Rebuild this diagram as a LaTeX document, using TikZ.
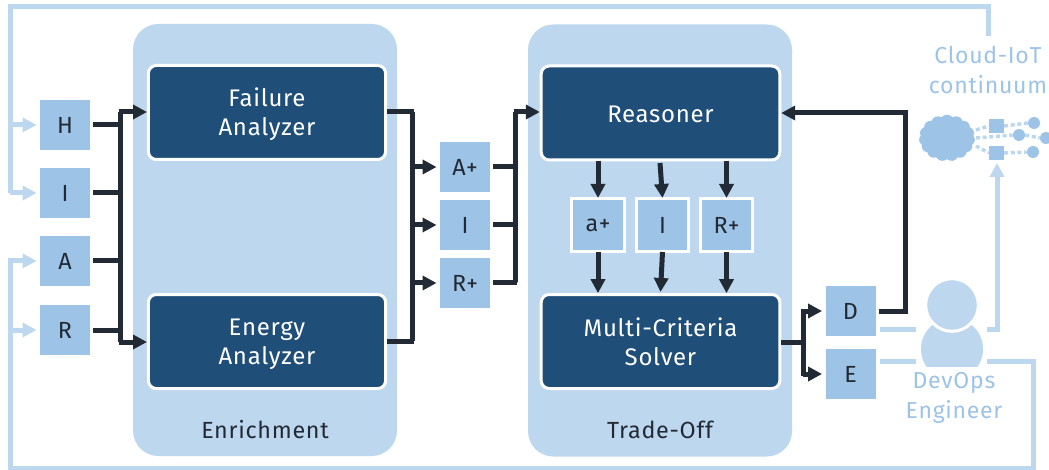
\documentclass[tikz,border=0pt]{standalone}
\usepackage{fontspec}
\setmainfont{Fira Sans}[LetterSpace=3]
\usetikzlibrary{arrows.meta,shapes.symbols}
\definecolor{panel}{HTML}{BDD7EE}
\definecolor{midblue}{HTML}{9DC3E6}
\definecolor{navy}{HTML}{1F4E79}
\definecolor{ink}{HTML}{222A35}
\newcommand\lowered[2]{\raisebox{-#1}[\height][\depth]{#2}}
\tikzset{
  x=.75pt,y=-.75pt,
  panelbox/.style={fill=panel,rounded corners=19pt,minimum width=198pt,minimum height=324pt,inner sep=0pt},
  darkbox/.style={fill=navy,draw=white,line width=2.25pt,rounded corners=6pt,minimum width=178pt,minimum height=70.5pt,
    text=white,align=center,font=\fontsize{18pt}{22pt}\selectfont,outer sep=1pt},
  smallbox/.style={fill=midblue,minimum size=37.5pt,inner sep=0pt,text=ink,font=\fontsize{17.5pt}{20pt}\selectfont,outer sep=2.6pt},
  framedbox/.style={smallbox,draw=white,line width=2.25pt,minimum size=39.5pt,outer sep=.5pt},
  panellabel/.style={text=ink,font=\fontsize{17.5pt}{20pt}\selectfont},
  lightlabel/.style={text=midblue,align=center,font=\fontsize{17.3pt}{23pt}\selectfont},
  darkline/.style={draw=ink,line width=3.75pt},
  darkarrow/.style={darkline,-{Triangle[length=10.5pt,width=10.5pt]}},
  lightline/.style={draw=panel,line width=3.75pt},
  lightarrow/.style={lightline,-{Triangle[length=10.5pt,width=10.5pt]}},
  dotline/.style={draw=panel,line width=2.6pt,dash pattern=on 3pt off 2pt},
  device/.style={fill=midblue,minimum size=11pt,inner sep=0pt},
  thing/.style={fill=midblue,circle,minimum size=9pt,inner sep=0pt},
}
\begin{document}
\begin{tikzpicture}
\useasboundingbox (0,0) rectangle (1049,470);

% panels
\node[panelbox] (enrich) at (265,240) {};
\node[panelbox] (trade) at (660,240.5) {};
\node[panellabel] (enrichlabel) at (265,430) {Enrichment};
\node[panellabel] (tradelabel) at (660,430) {Trade-Off};

% dark boxes
\node[darkbox] (failure) at (267,112.5) {\lowered{1.5pt}{Failure}\\\lowered{1.5pt}{Analyzer}};
\node[darkbox] (energy) at (267,341.5) {\lowered{2.2pt}{Energy}\\\lowered{2.2pt}{Analyzer}};
\node[darkbox,minimum width=179pt] (reasoner) at (660.5,113) {\lowered{.8pt}{Reasoner}};
\node[darkbox,minimum width=179pt] (solver) at (660.5,341.5) {Multi-Criteria\\Solver};

% input boxes
\node[smallbox] (H) at (65,125) {H};
\node[smallbox] (I) at (65,193) {I};
\node[smallbox] (A) at (65,261) {A};
\node[smallbox] (R) at (65,330) {R};

% enriched boxes
\node[smallbox] (Ap) at (465,167) {A+};
\node[smallbox] (Im) at (465,225) {I};
\node[smallbox] (Rp) at (465,283) {R+};

% framed boxes
\node[framedbox] (af) at (598,225) {a+};
\node[framedbox] (if) at (662.5,225) {I};
\node[framedbox] (rf) at (726.5,225) {R+};

% output boxes
\node[smallbox] (D) at (850.5,311) {D};
\node[smallbox] (E) at (850.5,374) {E};

% person
\begin{scope}
  \clip (915,318) rectangle (990,366);
  \fill[panel] (952,349) ellipse [x radius=31,y radius=31];
\end{scope}
\node[circle,fill=panel,draw=white,line width=2.25pt,minimum size=39.5pt,inner sep=0pt] (head) at (952,305) {};
\node[lightlabel] (devops) at (954,398) {DevOps\\Engineer};

% cloud-IoT
\node[lightlabel] (cloudlabel) at (988,70) {Cloud-IoT\\continuum};
\node[cloud,cloud puffs=15,cloud puff arc=100,aspect=1.25,fill=midblue,minimum width=42pt,minimum height=35pt,inner sep=0pt] (cloud) at (947,138) {};
\node[device] (s1) at (996.5,126) {};
\node[device] (s2) at (996.5,153) {};
\node[thing] (c1) at (1034,123) {};
\node[thing] (c2) at (1019,135) {};
\node[thing] (c3) at (1046,138) {};
\node[thing] (c4) at (1033,152) {};
\draw[dotline] (976,130) -- (s1.west);
\draw[dotline] (976,138) -- (c2.west);
\draw[dotline] (976,146) -- (s2.west);
\draw[dotline] (s1.east) -- (c1.west);
\draw[dotline] (s2.east) -- (c4.west);
\draw[dotline] (c2.east) -- (c3.west);

% coordinates of the light loops
\coordinate (loopTL) at (10,7);
\coordinate (loopTR) at (988,7);
\coordinate (cloudin) at (988,36);
\coordinate (loopBL) at (10,468);
\coordinate (loopBR) at (1033,468);
\coordinate (loopER) at (1033,361);
\coordinate (personE) at (987,361);
\coordinate (Eout) at (880,361);
\coordinate (Ein) at (916,361);
\coordinate (Dout) at (880,329);
\coordinate (Din) at (916,329);
\coordinate (personD) at (987,329);
\coordinate (upR) at (997,329);

% light connectors
\draw[lightline] (cloudin) -- (loopTR) -- (loopTL) -- (10,193);
\draw[lightarrow] (10,193) -- (I.west);
\draw[lightarrow] (10,125) -- (H.west);
\draw[lightline] (Eout) -- (Ein);
\draw[lightline] (personE) -- (loopER) -- (loopBR) -- (loopBL) -- (10,261);
\draw[lightarrow] (8.1,261) -- (A.west);
\draw[lightarrow] (10,330) -- (R.west);
\draw[lightline] (Dout) -- (Din);
\draw[lightarrow] (personD) -- (upR) -- (997,163);

% input bus
\coordinate (busA) at (120.5,112);
\coordinate (busB) at (120.5,342);
\draw[darkline] (H.east) -- (H.east -| busA);
\draw[darkline] (I.east) -- (I.east -| busA);
\draw[darkline] (A.east) -- (A.east -| busA);
\draw[darkline] (R.east) -- (R.east -| busA);
\draw[darkline] (busA) -- (busB);
\draw[darkarrow] (118.6,112) -- (failure.west |- busA);
\draw[darkarrow] (118.6,342) -- (energy.west |- busB);

% enrichment outputs
\coordinate (midA) at (412,112);
\coordinate (midB) at (412,341);
\draw[darkline] (failure.east |- midA) -- (413.9,112);
\draw[darkline] (energy.east |- midB) -- (413.9,341);
\draw[darkline] (midA) -- (midB);
\draw[darkarrow] (midA |- Ap) -- (Ap.west);
\draw[darkarrow] (midA |- Im) -- (Im.west);
\draw[darkarrow] (midA |- Rp) -- (Rp.west);

% enriched to reasoner
\coordinate (outA) at (515.5,112);
\draw[darkline] (Ap.east) -- (Ap.east -| outA);
\draw[darkline] (Im.east) -- (Im.east -| outA);
\draw[darkline] (Rp.east) -- (Rp.east -| outA);
\draw[darkline] (517.4,283) -- (outA |- Rp) -- (outA);
\draw[darkarrow] (513.6,112) -- (reasoner.west |- outA);

% reasoner to framed boxes to solver
\draw[darkarrow] (af.north |- reasoner.south) -- (af.north);
\draw[darkarrow] (660,163) -- (if.north);
\draw[darkarrow] (rf.north |- reasoner.south) -- (rf.north);
\draw[darkarrow] (af.south) -- (af.south |- solver.north);
\draw[darkarrow] (if.south) -- (660.5,292);
\draw[darkarrow] (rf.south) -- (rf.south |- solver.north);

% solver to D, E
\coordinate (fork) at (803,342);
\draw[darkline] (solver.east |- fork) -- (805,342);
\draw[darkarrow] (fork |- D) -- (D.west) ;
\draw[darkarrow] (fork |- E) -- (E.west);
\draw[darkline] (803,309.1) -- (803,375.9);

% D to reasoner
\draw[darkarrow] (D.east) -- (905,311) -- (905,113) -- (reasoner.east |- 905,113);
\end{tikzpicture}
\end{document}
